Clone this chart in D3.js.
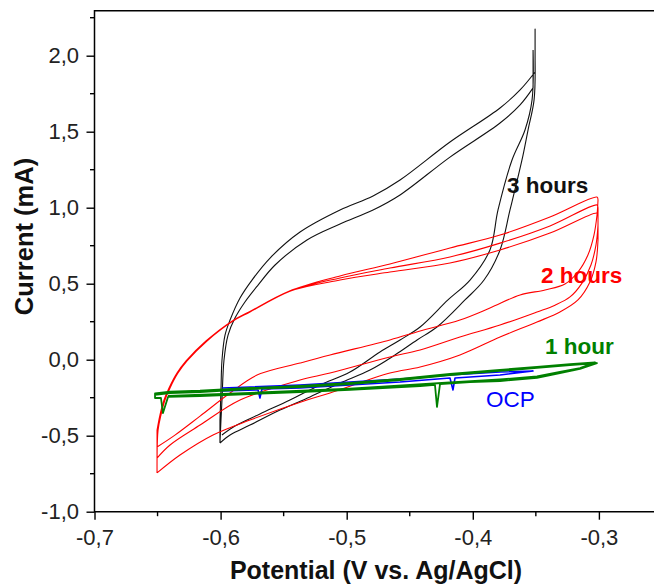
<!DOCTYPE html>
<html><head><meta charset="utf-8">
<script src="https://cdn.jsdelivr.net/npm/d3@7"></script>
<style>body{margin:0;background:#fff} svg{display:block;font-family:"Liberation Sans",Arial,sans-serif}</style>
</head><body><svg id="c" width="654" height="586"></svg>
<script>
// ---- tick values / labels ----
const xTicks = [-0.7, -0.6, -0.5, -0.4, -0.3];
const xMinor = [-0.65, -0.55, -0.45, -0.35];
const yTicks = [-1.0, -0.5, 0.0, 0.5, 1.0, 1.5, 2.0];
const yMinor = [-0.75, -0.25, 0.25, 0.75, 1.25, 1.75, 2.25];
const xTitle = "Potential (V vs. Ag/AgCl)";
const yTitle = "Current (mA)";

// ---- series: [potential V, current mA] ----
const black3h = [
  [-0.6005,-0.541],[-0.6005,-0.397],[-0.5997,-0.199],[-0.5989,-0.002],[-0.5965,0.162],[-0.5925,0.261],
  [-0.5846,0.406],[-0.5751,0.524],[-0.5608,0.669],[-0.5370,0.840],[-0.5053,0.985],[-0.4791,1.077],
  [-0.4577,1.182],[-0.4181,1.432],[-0.3784,1.656],[-0.3625,1.775],[-0.3506,1.893],[-0.3506,2.176],
  [-0.3506,1.972],[-0.3514,1.709],[-0.3562,1.511],[-0.3610,1.314],[-0.3705,0.985],[-0.3784,0.722],
  [-0.3911,0.524],[-0.4062,0.393],[-0.4284,0.215],[-0.4442,0.130],[-0.4617,0.031],[-0.4815,-0.068],
  [-0.5053,-0.153],[-0.5291,-0.245],[-0.5529,-0.331],[-0.5767,-0.430],[-0.5925,-0.495],[-0.6005,-0.548],
  [-0.5997,-0.397],[-0.5989,-0.265],[-0.5973,-0.002],[-0.5941,0.162],[-0.5886,0.274],[-0.5807,0.380],
  [-0.5703,0.491],[-0.5568,0.623],[-0.5315,0.788],[-0.5053,0.893],[-0.4791,0.985],[-0.4577,1.084],
  [-0.4181,1.333],[-0.3784,1.557],[-0.3625,1.676],[-0.3522,1.788],[-0.3522,2.038],
  [-0.3530,1.709],[-0.3586,1.511],[-0.3689,1.314],[-0.3800,0.985],[-0.3864,0.722],[-0.4022,0.524],
  [-0.4197,0.393],[-0.4418,0.215],[-0.4577,0.130],[-0.4736,0.051],[-0.4974,-0.081],[-0.5212,-0.166],
  [-0.5450,-0.265],[-0.5688,-0.357],[-0.5886,-0.436],[-0.5989,-0.495]
];
const red2h = [
  [-0.6504,-0.660],[-0.6496,-0.463],[-0.6473,-0.364],[-0.6441,-0.265],[-0.6401,-0.186],[-0.6338,-0.088],
  [-0.6266,-0.008],[-0.6108,0.123],[-0.5902,0.254],[-0.5767,0.314],[-0.5450,0.451],
  [-0.5053,0.524],[-0.4657,0.577],[-0.4181,0.636],[-0.3784,0.722],[-0.3388,0.833],[-0.3015,0.965],
  [-0.3007,0.952],[-0.3007,0.788],[-0.3023,0.643],[-0.3071,0.511],[-0.3166,0.393],[-0.3309,0.314],
  [-0.3491,0.248],[-0.3784,0.149],[-0.4102,0.031],[-0.4418,-0.048],[-0.4657,-0.088],[-0.5132,-0.219],
  [-0.5315,-0.265],[-0.5767,-0.397],[-0.6060,-0.495],[-0.6322,-0.627],[-0.6504,-0.745],
  [-0.6496,-0.463],[-0.6473,-0.364],[-0.6441,-0.265],[-0.6401,-0.186],[-0.6338,-0.088],
  [-0.6266,-0.008],[-0.6108,0.123],[-0.5902,0.254],[-0.5767,0.314],[-0.5450,0.451],
  [-0.5053,0.538],[-0.4657,0.603],[-0.4181,0.676],[-0.3784,0.767],[-0.3388,0.880],[-0.3015,1.018],
  [-0.3007,0.998],[-0.3007,0.886],[-0.3023,0.755],[-0.3063,0.623],[-0.3134,0.504],[-0.3229,0.413],
  [-0.3348,0.359],[-0.3491,0.314],[-0.3784,0.228],[-0.4102,0.149],[-0.4418,0.064],[-0.4657,0.018],
  [-0.5132,-0.088],[-0.5370,-0.134],[-0.5846,-0.265],[-0.6163,-0.430],[-0.6401,-0.561],[-0.6504,-0.647],
  [-0.6504,-0.463],[-0.6481,-0.364],[-0.6449,-0.265],[-0.6409,-0.186],[-0.6346,-0.088],
  [-0.6274,-0.008],[-0.6116,0.123],[-0.5910,0.254],[-0.5775,0.314],[-0.5458,0.451],
  [-0.5053,0.551],[-0.4657,0.630],[-0.4181,0.735],[-0.3784,0.820],[-0.3388,0.939],[-0.3015,1.070],
  [-0.3007,1.051],[-0.3015,0.952],[-0.3039,0.820],[-0.3087,0.689],[-0.3166,0.577],[-0.3269,0.498],
  [-0.3427,0.459],[-0.3625,0.426],[-0.3864,0.340],[-0.4102,0.261],[-0.4418,0.189],[-0.4657,0.130],
  [-0.5132,0.031],[-0.5370,-0.022],[-0.5711,-0.101],[-0.5925,-0.219],[-0.6163,-0.371],[-0.6362,-0.496],
  [-0.6504,-0.574]
];
const ocp = [
  [-0.5989,-0.186],[-0.5767,-0.180],[-0.5370,-0.166],[-0.4974,-0.147],[-0.4577,-0.127],[-0.4181,-0.101],
  [-0.3784,-0.081],[-0.3522,-0.074],[-0.3784,-0.101],[-0.4141,-0.120],[-0.4157,-0.199],[-0.4181,-0.120],
  [-0.4577,-0.147],[-0.4974,-0.166],[-0.5370,-0.186],[-0.5672,-0.193],[-0.5688,-0.252],[-0.5703,-0.199],
  [-0.5989,-0.206]
];
const green1h = [
  [-0.6520,-0.232],[-0.6401,-0.219],[-0.6163,-0.213],[-0.5767,-0.193],[-0.5370,-0.180],[-0.4974,-0.160],
  [-0.4577,-0.134],[-0.4181,-0.101],[-0.3784,-0.074],[-0.3491,-0.054],[-0.3229,-0.035],[-0.3015,-0.022],
  [-0.3150,-0.061],[-0.3309,-0.088],[-0.3491,-0.120],[-0.3784,-0.140],[-0.4022,-0.147],[-0.4260,-0.160],
  [-0.4284,-0.311],[-0.4300,-0.166],[-0.4418,-0.173],[-0.4974,-0.199],[-0.5370,-0.213],[-0.5767,-0.226],
  [-0.6163,-0.239],[-0.6417,-0.245],[-0.6457,-0.351],[-0.6473,-0.252],[-0.6520,-0.252],
  [-0.6520,-0.222],[-0.6401,-0.210],[-0.6163,-0.204],[-0.5767,-0.186],[-0.5370,-0.172],[-0.4974,-0.152],
  [-0.4577,-0.127],[-0.4181,-0.094],[-0.3784,-0.067],[-0.3491,-0.047],[-0.3229,-0.029],[-0.3030,-0.018],
  [-0.3150,-0.055],[-0.3309,-0.080],[-0.3491,-0.110],[-0.3784,-0.130],[-0.4181,-0.150],[-0.4974,-0.190],
  [-0.5767,-0.218],[-0.6417,-0.238]
];
const labels = [
  {text:"3 hours", v:-0.3729, i:1.097, color:"#111", weight:"bold"},
  {text:"2 hours", v:-0.3459, i:0.5046, color:"#ff0000", weight:"bold"},
  {text:"1 hour",  v:-0.3427, i:0.0355, color:"#008000", weight:"bold"},
  {text:"OCP",     v:-0.3895, i:-0.313, color:"#0000ff", weight:"normal"}
];

const svg = d3.select("#c");
const x = d3.scaleLinear().domain([-0.7, -0.2563]).range([94.5, 654]);
const y = d3.scaleLinear().domain([-1.0, 2.3]).range([511.7, 10.1]);
const fmt = d => d.toFixed(1).replace(".", ",");

// axes
const gx = svg.append("g").attr("transform", `translate(0,${y(-1)})`)
  .call(d3.axisBottom(x).tickValues(xTicks).tickSize(8).tickPadding(9.5).tickFormat(fmt));
const gy = svg.append("g").attr("transform", `translate(${x(-0.7)},0)`)
  .call(d3.axisLeft(y).tickValues(yTicks).tickSize(8).tickPadding(7.5).tickFormat(fmt));
[gx, gy].forEach(g => {
  g.select(".domain").remove();
  g.selectAll(".tick line").attr("stroke", "#000").attr("stroke-width", 1.4);
  g.selectAll(".tick text").attr("fill", "#222").style("font-size", "22px")
   .style("font-family", '"Liberation Sans",Arial,sans-serif');
});
svg.append("g").selectAll("line").data(xMinor).join("line")
  .attr("x1", d => x(d)).attr("x2", d => x(d)).attr("y1", y(-1)).attr("y2", y(-1) + 4.5)
  .attr("stroke", "#000").attr("stroke-width", 1.4);
svg.append("g").selectAll("line").data(yMinor).join("line")
  .attr("y1", d => y(d)).attr("y2", d => y(d)).attr("x1", x(-0.7)).attr("x2", x(-0.7) - 4.5)
  .attr("stroke", "#000").attr("stroke-width", 1.4);

// frame
const [x0, x1] = x.range();
const [yb, yt] = y.range();
svg.append("path").attr("d", `M${x1},${yt + 0.6}H${x0}V${yb}H${x1}`)
  .attr("fill", "none").attr("stroke", "#000").attr("stroke-width", 1.5);

// curves: smooth each sweep branch separately, keep vertex corners sharp
const smoothGen = d3.line().x(d => x(d[0])).y(d => y(d[1])).curve(d3.curveCatmullRom.alpha(0.5));
const straightGen = d3.line().x(d => x(d[0])).y(d => y(d[1]));
function branches(data) {
  const out = []; let cur = [data[0]]; let prev = null;
  for (let i = 1; i < data.length; i++) {
    const dv = data[i][0] - data[i-1][0];
    const s = Math.abs(dv) < 1e-9 ? 0 : Math.sign(dv);
    if (prev !== null && s !== prev) { out.push(cur); cur = [data[i-1]]; }
    cur.push(data[i]); prev = s;
  }
  out.push(cur);
  return out;
}
const smoothPath = data => branches(data).map(b => smoothGen(b)).join("");
const series = [
  {data: black3h, color: "#111", w: 1.1, gen: smoothPath},
  {data: red2h, color: "#ff0000", w: 1.1, gen: smoothPath},
  {data: ocp, color: "#0000ff", w: 1.6, gen: straightGen},
  {data: green1h, color: "#008000", w: 1.8, gen: straightGen}
];
svg.append("g").selectAll("path").data(series).join("path")
  .attr("d", s => s.gen(s.data)).attr("fill", "none")
  .attr("stroke", s => s.color).attr("stroke-width", s => s.w)
  .attr("stroke-linejoin", "round");

// annotations
svg.append("g").selectAll("text").data(labels).join("text")
  .attr("x", d => x(d.v)).attr("y", d => y(d.i)).text(d => d.text)
  .attr("fill", d => d.color).attr("font-weight", d => d.weight).style("font-size", "22.5px");

// titles
svg.append("text").attr("x", 376).attr("y", 579).attr("text-anchor", "middle")
  .attr("font-weight", "bold").style("font-size", "25px").attr("fill", "#111").text(xTitle);
svg.append("text").attr("transform", "translate(32.5,236.5) rotate(-90)").attr("text-anchor", "middle")
  .attr("font-weight", "bold").style("font-size", "25.5px").attr("fill", "#111").text(yTitle);
</script></body></html>
